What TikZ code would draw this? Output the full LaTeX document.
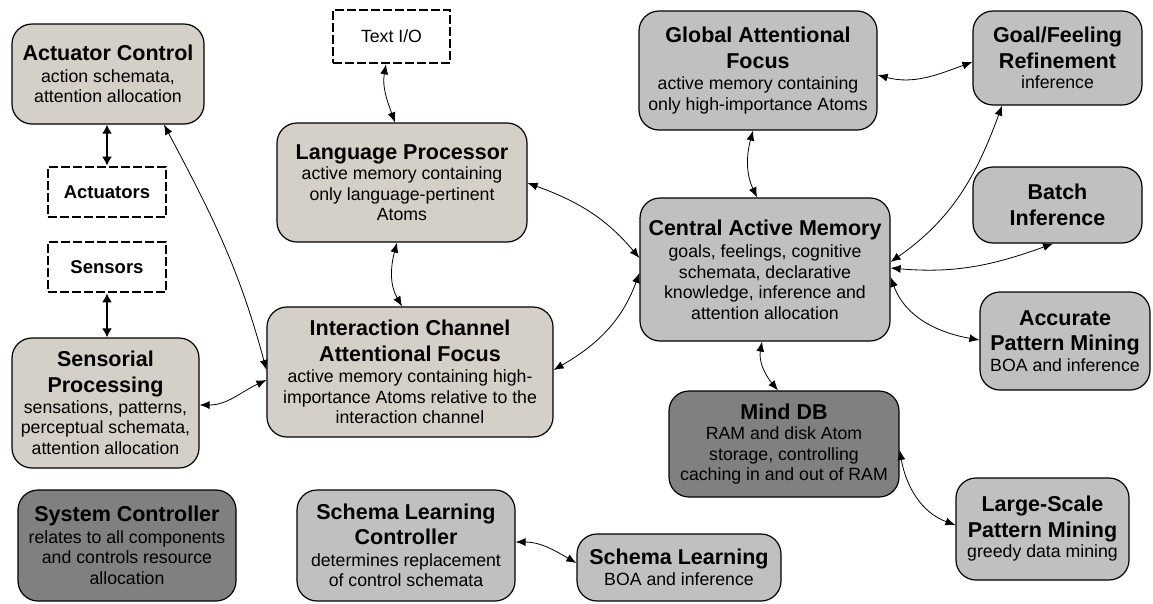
\documentclass[tikz,border=0pt]{standalone}
\usepackage{fontspec}
\setmainfont{Liberation Sans}
\usetikzlibrary{arrows.meta}
\definecolor{lightbox}{HTML}{D4D0C8}
\definecolor{midbox}{HTML}{C0C0C0}
\definecolor{darkbox}{HTML}{808080}
\newcommand{\ttl}[1]{{\fontsize{21.5}{26}\selectfont\bfseries #1}}
\tikzset{
  wh/.style 2 args={minimum width=#1pt, minimum height=#2pt},
  box/.style={draw, line width=1.2pt, rounded corners=20pt, align=center,
    font=\fontsize{17.7}{20.5}\selectfont, inner sep=2pt},
  lbox/.style={box, fill=lightbox},
  mbox/.style={box, fill=midbox},
  dbox/.style={box, fill=darkbox},
  io/.style={draw, line width=2.6pt, dash pattern=on 9pt off 3pt, fill=white,
    align=center, font=\fontsize{17.7}{20.5}\selectfont, inner sep=2pt},
  iob/.style={io, font=\fontsize{18.5}{22}\selectfont\bfseries},
  link/.style={line width=0.8pt, {Latex[length=10pt,width=8pt]}-{Latex[length=10pt,width=8pt]}},
  tlink/.style={line width=1.8pt, {Latex[length=9pt,width=10pt]}-{Latex[length=9pt,width=10pt]}},
}
\begin{document}
\begin{tikzpicture}[x=1pt,y=-1pt]
\path[use as bounding box, fill=white] (0,0) rectangle (1153,603);

\node[lbox, wh={192}{100}] (ac) at (108,74) {\ttl{Actuator Control}\\[1.5pt]action schemata,\\attention allocation};
\node[iob, wh={118}{50}] (act) at (107,192) {Actuators};
\node[iob, wh={118}{50}] (sen) at (107,267) {Sensors};
\node[lbox, wh={187}{130}] (sp) at (105.5,403) {\ttl{Sensorial}\\[5pt]\ttl{Processing}\\[0.5pt]sensations, patterns,\\perceptual schemata,\\attention allocation};
\node[dbox, wh={218}{111}] (sc) at (127,545.5) {\ttl{System Controller}\\[1pt]relates to all components\\and controls resource\\allocation};
\node[mbox, wh={218}{111}] (slc) at (406,545.5) {\ttl{Schema Learning}\\[5pt]\ttl{Controller}\\[1pt]determines replacement\\of control schemata};
\node[mbox, wh={204}{67}] (sl) at (679,567.5) {\ttl{Schema Learning}\\[1pt]BOA and inference};
\node[lbox, wh={286}{130}] (ic) at (410,372) {\ttl{Interaction Channel}\\[5pt]\ttl{Attentional Focus}\\[1pt]active memory containing high-\\importance Atoms relative to the\\interaction channel};
\node[lbox, wh={250}{119}] (lp) at (402,182.5) {\ttl{Language Processor}\\active memory containing\\only language-pertinent\\Atoms};
\node[io, wh={117}{53}] (tio) at (391.5,36.5) {Text I/O};
\node[mbox, wh={238}{119}] (gaf) at (758,70.5) {\ttl{Global Attentional}\\[5pt]\ttl{Focus}\\[1pt]active memory containing\\only high-importance Atoms};
\node[mbox, wh={169}{94}] (gf) at (1057.5,58) {\ttl{Goal/Feeling}\\[5pt]\ttl{Refinement}\\inference};
\node[mbox, wh={169}{76}] (bi) at (1057.5,205) {\ttl{Batch}\\[5pt]\ttl{Inference}};
\node[mbox, wh={250}{143}] (cam) at (765,269.5) {\ttl{Central Active Memory}\\[2pt]goals, feelings, cognitive\\schemata, declarative\\knowledge, inference and\\attention allocation};
\node[mbox, wh={170}{98}] (apm) at (1065,341) {\ttl{Accurate}\\[5pt]\ttl{Pattern Mining}\\BOA and inference};
\node[dbox, wh={230}{106}] (mdb) at (784,444) {\ttl{Mind DB}\\RAM and disk Atom\\storage, controlling\\caching in and out of RAM};
\node[mbox, wh={173}{102}] (lspm) at (1042.5,529) {\ttl{Large-Scale}\\[5pt]\ttl{Pattern Mining}\\greedy data mining};

\draw[tlink] (act.north |- ac.south) -- (act.north);
\draw[tlink] (sen.south) -- (sen.south |- sp.north);
\draw[link] ([xshift=56pt]ac.south) to[out=-62,in=105] ([yshift=2pt]ic.west);
\draw[link] ([yshift=-2pt]sp.east) to[out=0,in=205] ([yshift=-8pt]ic.west);
\draw[link] ([xshift=-5.5pt]tio.south) to[out=-100,in=110] ([xshift=-7pt]lp.north);
\draw[link] ([xshift=-5pt]lp.south) to[out=-105,in=120] ([xshift=-8pt]ic.north);
\draw[link] ([yshift=-0.5pt]lp.east) to[out=-20,in=130] ([yshift=11.5pt]cam.west);
\draw[link] ([yshift=2pt]ic.east) to[out=30,in=-110] ([yshift=-3.5pt]cam.west);
\draw[link] ([xshift=-5pt]gaf.south) to[out=-105,in=115] ([xshift=-8pt]cam.north);
\draw[link] ([yshift=-4.5pt]gaf.east) to[out=-15,in=200] ([yshift=-4pt]gf.west);
\draw[link] ([yshift=7.5pt]cam.east) to[out=35,in=-110] ([xshift=-55.5pt]gf.south);
\draw[link] ([yshift=1.5pt]cam.east) to[out=-5,in=200] ([xshift=-4.5pt]bi.south);
\draw[link] ([yshift=-7.5pt]cam.east) to[out=-70,in=170] ([yshift=1pt]apm.west);
\draw[link] ([xshift=-3pt]cam.south) to[out=-100,in=130] ([xshift=-6pt]mdb.north);
\draw[link] ([yshift=-6pt]mdb.east) to[out=-80,in=160] ([yshift=4pt]lspm.west);
\draw[link] ([yshift=3.5pt]slc.east) to[out=0,in=150] ([yshift=4.5pt]sl.west);
\end{tikzpicture}
\end{document}
